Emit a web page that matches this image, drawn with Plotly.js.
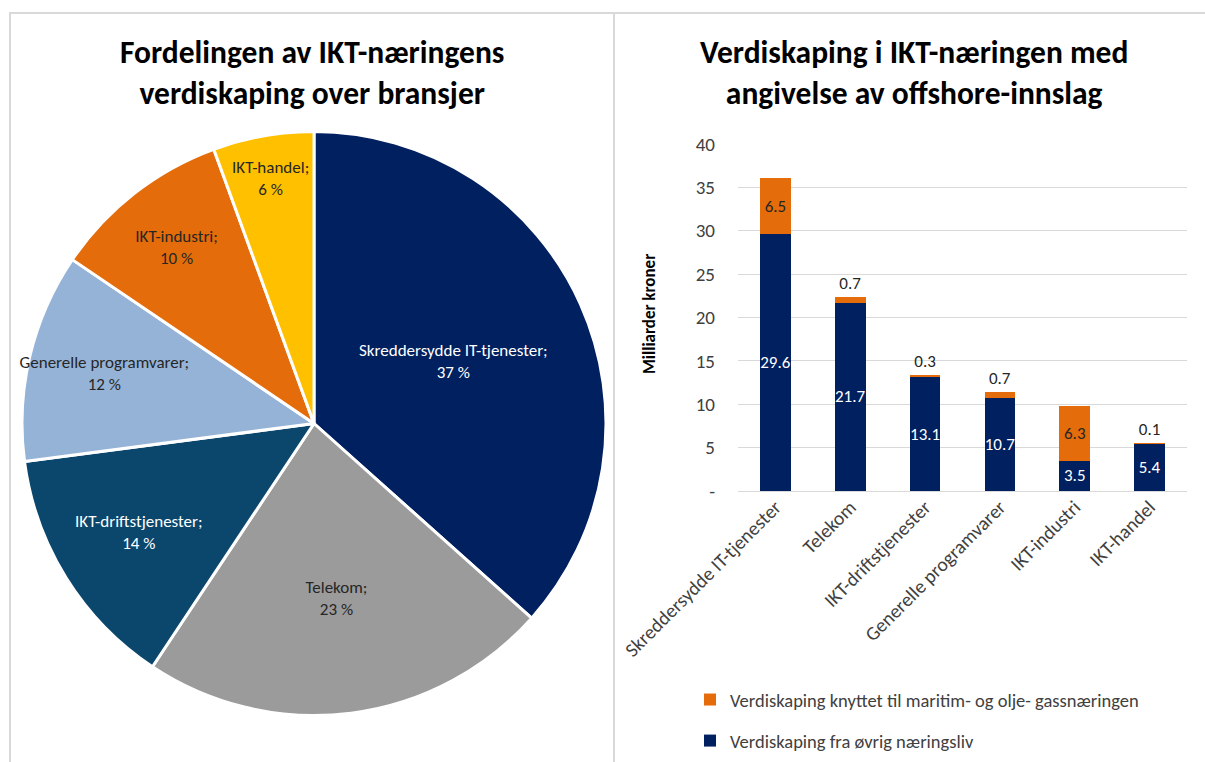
<!DOCTYPE html>
<html>
<head>
<meta charset="utf-8">
<script src="https://cdn.plot.ly/plotly-3.0.1.min.js"></script>
<style>html,body{margin:0;padding:0;background:#fff;}#chart{width:1205px;height:762px;}</style>
</head>
<body>
<div id="chart"></div>
<script>
// ---- data ----
const categories = ['Skreddersydde IT-tjenester', 'Telekom', 'IKT-driftstjenester', 'Generelle programvarer', 'IKT-industri', 'IKT-handel'];
const ovrigValues = [29.6, 21.7, 13.1, 10.7, 3.5, 5.4];
const offshoreValues = [6.5, 0.7, 0.3, 0.7, 6.3, 0.1];
const pieLabels = ['Skreddersydde IT-tjenester', 'Telekom', 'IKT-driftstjenester', 'Generelle programvarer', 'IKT-industri', 'IKT-handel'];
const yTickVals = [0, 5, 10, 15, 20, 25, 30, 35, 40];
const yTickText = ['-', '5', '10', '15', '20', '25', '30', '35', '40'];
const seriesNames = ['Verdiskaping fra øvrig næringsliv', 'Verdiskaping knyttet til maritim- og olje- gassnæringen'];
const titleLeft = 'Fordelingen av IKT-næringens<br>verdiskaping over bransjer';
const titleRight = 'Verdiskaping i IKT-næringen med<br>angivelse av offshore-innslag';
const yTitle = 'Milliarder kroner';

// ---- derived ----
const pieValues = ovrigValues.map((v, i) => v + offshoreValues[i]);
const pieSum = pieValues.reduce((a, b) => a + b, 0);
const pieText = pieValues.map(v => Math.round(v / pieSum * 100) + ' %');

const W = 1205, H = 762;
const px = x => x / W;
const py = y => 1 - y / H;

const FONT = 'Carlito, Calibri, Lato, sans-serif';
const NAVY = '#002060', ORANGE = '#E46C0A';
const pieColors = [NAVY, '#9B9B9B', '#0B476D', '#95B3D7', ORANGE, '#FFC000'];
const pieTextColors = ['#ffffff', '#262626', '#ffffff', '#262626', '#262626', '#262626'];
const TXT = 17;

const pie = {
  type: 'pie',
  labels: pieLabels,
  values: pieValues,
  text: pieText,
  texttemplate: '%{label};<br>%{text}',
  textposition: 'inside',
  insidetextorientation: 'horizontal',
  sort: false,
  direction: 'clockwise',
  rotation: 0,
  marker: { colors: pieColors, line: { color: '#ffffff', width: 3 } },
  textfont: { family: FONT, size: TXT, color: pieTextColors },
  hoverinfo: 'label+percent',
  showlegend: false,
  domain: { x: [px(22), px(606)], y: [py(716), py(131)] }
};

const barOvrig = {
  type: 'bar',
  name: seriesNames[0],
  x: categories,
  y: ovrigValues,
  marker: { color: NAVY },
  texttemplate: '%{y:.1f}',
  textposition: 'inside',
  insidetextanchor: 'middle',
  constraintext: 'none',
  textangle: 0,
  textfont: { family: FONT, size: TXT, color: '#ffffff' },
  xaxis: 'x', yaxis: 'y',
  legendgroup: 'a',
  legendrank: 2
};
const barOffshore = {
  type: 'bar',
  name: seriesNames[1],
  x: categories,
  y: offshoreValues,
  marker: { color: ORANGE },
  texttemplate: '%{y:.1f}',
  textposition: offshoreValues.map(v => v > 3 ? 'inside' : 'outside'),
  insidetextanchor: 'middle',
  constraintext: 'none',
  textangle: 0,
  cliponaxis: false,
  textfont: { family: FONT, size: TXT, color: '#262626' },
  xaxis: 'x', yaxis: 'y',
  legendgroup: 'b',
  legendrank: 1
};

const lineCol = '#D9D9D9';
const layout = {
  width: W, height: H,
  margin: { l: 0, r: 0, t: 0, b: 0 },
  paper_bgcolor: '#ffffff',
  plot_bgcolor: '#ffffff',
  font: { family: FONT, color: '#404040' },
  uniformtext: { mode: 'show', minsize: TXT },
  barmode: 'stack',
  bargap: 0.59,
  xaxis: {
    domain: [px(738), px(1187)],
    anchor: 'y',
    tickangle: -45,
    tickfont: { family: FONT, size: 19.5, color: '#404040' },
    showgrid: false,
    showline: false,
    ticks: '',
    fixedrange: true
  },
  yaxis: {
    domain: [py(491), py(144)],
    anchor: 'x',
    range: [0, 40],
    tickvals: yTickVals,
    ticktext: yTickText,
    tickfont: { family: FONT, size: 19, color: '#404040' },
    showgrid: true,
    gridcolor: lineCol,
    gridwidth: 1,
    zeroline: true,
    zerolinecolor: lineCol,
    zerolinewidth: 1,
    showline: false,
    ticks: '',
    ticklabelstandoff: 22,
    fixedrange: true
  },
  legend: {
    x: px(690), y: py(681), xanchor: 'left', yanchor: 'top',
    traceorder: 'grouped',
    tracegroupgap: 14,
    font: { family: FONT, size: 18.5, color: '#404040' },
    bgcolor: 'rgba(0,0,0,0)'
  },
  annotations: [
    { text: titleLeft, x: px(312), y: py(72), xref: 'paper', yref: 'paper', xanchor: 'center', yanchor: 'middle',
      showarrow: false, font: { family: FONT, size: 31.5, color: '#000000', weight: 'bold' }, align: 'center' },
    { text: titleRight, x: px(914), y: py(72), xref: 'paper', yref: 'paper', xanchor: 'center', yanchor: 'middle',
      showarrow: false, font: { family: FONT, size: 31.5, color: '#000000', weight: 'bold' }, align: 'center' },
    { text: yTitle, x: px(649), y: py(314), xref: 'paper', yref: 'paper', xanchor: 'center', yanchor: 'middle',
      textangle: -90, showarrow: false, font: { family: FONT, size: 17, color: '#000000', weight: 'bold' } }
  ],
  shapes: [
    { type: 'line', xref: 'paper', yref: 'paper', x0: px(9), x1: 1, y0: py(13), y1: py(13), line: { color: lineCol, width: 2 } },
    { type: 'line', xref: 'paper', yref: 'paper', x0: px(10), x1: px(10), y0: py(13), y1: 0, line: { color: lineCol, width: 2 } },
    { type: 'line', xref: 'paper', yref: 'paper', x0: px(614), x1: px(614), y0: py(13), y1: 0, line: { color: lineCol, width: 2 } }
  ]
};

Plotly.newPlot('chart', [pie, barOvrig, barOffshore], layout, { displayModeBar: false, staticPlot: true });
</script>
</body>
</html>
